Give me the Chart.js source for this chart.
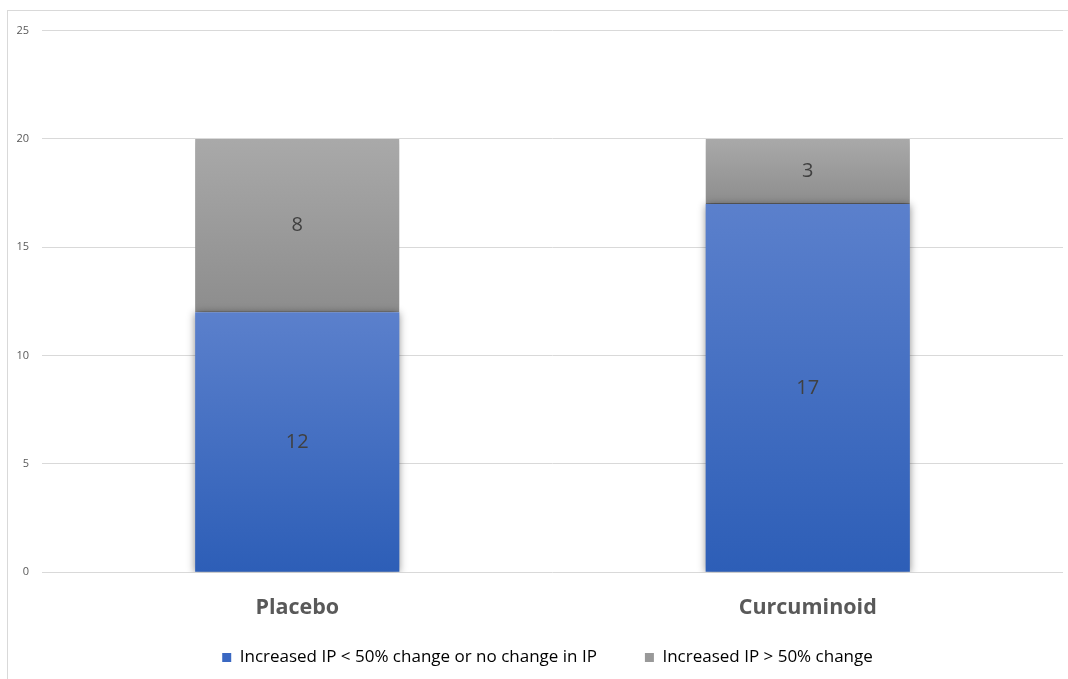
<!DOCTYPE html>
<html>
<head>
<meta charset="utf-8">
<script src="https://cdn.jsdelivr.net/npm/chart.js@4"></script>
<style>
  html, body { margin: 0; padding: 0; background: #fff; }
  #frame {
    position: absolute; left: 7px; top: 10px;
    width: 1061px; height: 669px;
    border-left: 1px solid #d9d9d9; border-top: 1px solid #d9d9d9;
  }
  #chart { display: block; }
</style>
</head>
<body>
<div id="frame"><canvas id="chart" width="1061" height="669"></canvas></div>
<script>
const groups = ['Placebo', 'Curcuminoid'];
const lowChange = [12, 17];
const highChange = [8, 3];
const seriesNames = ['Increased IP < 50% change or no change in IP', 'Increased IP > 50% change'];
const yTicks = [0, 5, 10, 15, 20, 25];

const FONT = "'Open Sans', 'Noto Sans', sans-serif";
const LEGEND_GAP = 48;

// vertical gradient spanning one bar segment
function segmentGradient(context, top, bottom) {
    const chart = context.chart;
    const y = chart.scales.y;
    if (!y || !chart.chartArea) return top;
    const i = context.dataIndex;
    let from = 0, to;
    if (context.datasetIndex === 0) {
        to = lowChange[i];
    } else {
        from = lowChange[i];
        to = lowChange[i] + highChange[i];
    }
    const g = chart.ctx.createLinearGradient(0, y.getPixelForValue(to), 0, y.getPixelForValue(from));
    g.addColorStop(0, top);
    g.addColorStop(1, bottom);
    return g;
}

// soft drop shadow behind the bars
const barShadow = {
    id: 'barShadow',
    beforeDatasetDraw(chart) {
        const ctx = chart.ctx;
        ctx.save();
        ctx.shadowColor = 'rgba(0,0,0,0.45)';
        ctx.shadowBlur = 8;
        ctx.shadowOffsetX = 0;
        ctx.shadowOffsetY = 1;
    },
    afterDatasetDraw(chart) {
        chart.ctx.restore();
    }
};

// the legend padding doubles as the gap between items, so reserve
// a shorter box and move it up so the row sits below the axis labels
const compactLegend = {
    id: 'compactLegend',
    beforeUpdate(chart) {
        const legend = chart.legend;
        if (!legend || legend._compact) return;
        const fit = legend.fit;
        legend.fit = function () {
            fit.call(this);
            this.height = 44;
        };
        legend._compact = true;
    },
    afterLayout(chart) {
        const legend = chart.legend;
        if (!legend) return;
        legend.top = 638 - LEGEND_GAP;
        legend.bottom = chart.height;
        legend.left += 12;
        legend.right += 12;
    }
};

// value written in the middle of each segment
const segmentLabels = {
    id: 'segmentLabels',
    afterDatasetsDraw(chart) {
        const ctx = chart.ctx;
        ctx.save();
        ctx.font = '20px ' + FONT;
        ctx.fillStyle = '#404040';
        ctx.textAlign = 'center';
        ctx.textBaseline = 'middle';
        chart.data.datasets.forEach((ds, di) => {
            chart.getDatasetMeta(di).data.forEach((bar, i) => {
                const mid = (bar.y + bar.base) / 2;
                ctx.fillText(String(ds.data[i]), bar.x, mid);
            });
        });
        ctx.restore();
    }
};

new Chart(document.getElementById('chart'), {
    type: 'bar',
    data: {
        labels: groups,
        datasets: [
            {
                label: seriesNames[0],
                data: lowChange,
                backgroundColor: ctx => segmentGradient(ctx, '#5b80cc', '#2d5eb7'),
                borderWidth: 0
            },
            {
                label: seriesNames[1],
                data: highChange,
                backgroundColor: ctx => segmentGradient(ctx, '#a9a9a9', '#8d8d8d'),
                borderColor: '#7f7f7f',
                borderWidth: { bottom: 1, top: 0, left: 0, right: 0 },
                borderSkipped: false
            }
        ]
    },
    options: {
        responsive: false,
        animation: false,
        layout: { padding: { top: 14, right: 6, left: 0, bottom: 0 } },
        datasets: {
            bar: { categoryPercentage: 1, barPercentage: 0.4 }
        },
        scales: {
            x: {
                stacked: true,
                grid: { display: false },
                border: { display: false },
                ticks: { color: '#595959', font: { family: FONT, size: 21.5, weight: 'bold' }, padding: 15 }
            },
            y: {
                stacked: true,
                min: 0,
                max: 25,
                afterBuildTicks: axis => { axis.ticks = yTicks.map(v => ({ value: v })); },
                afterFit: axis => { axis.width = 34; },
                grid: { color: '#d9d9d9', drawTicks: false },
                border: { display: false },
                ticks: { color: '#595959', font: { family: FONT, size: 11 }, padding: 13 }
            }
        },
        plugins: {
            legend: {
                position: 'bottom',
                labels: {
                    boxWidth: 9,
                    boxHeight: 9,
                    color: '#595959',
                    padding: LEGEND_GAP,
                    font: { family: FONT, size: 17 },
                    generateLabels: chart => seriesNames.map((name, i) => ({
                        text: name,
                        fillStyle: i === 0 ? '#3a68c2' : '#999999',
                        strokeStyle: 'transparent',
                        lineWidth: 0,
                        datasetIndex: i
                    }))
                }
            },
            tooltip: { enabled: false }
        }
    },
    plugins: [barShadow, compactLegend, segmentLabels]
});
</script>
</body>
</html>
